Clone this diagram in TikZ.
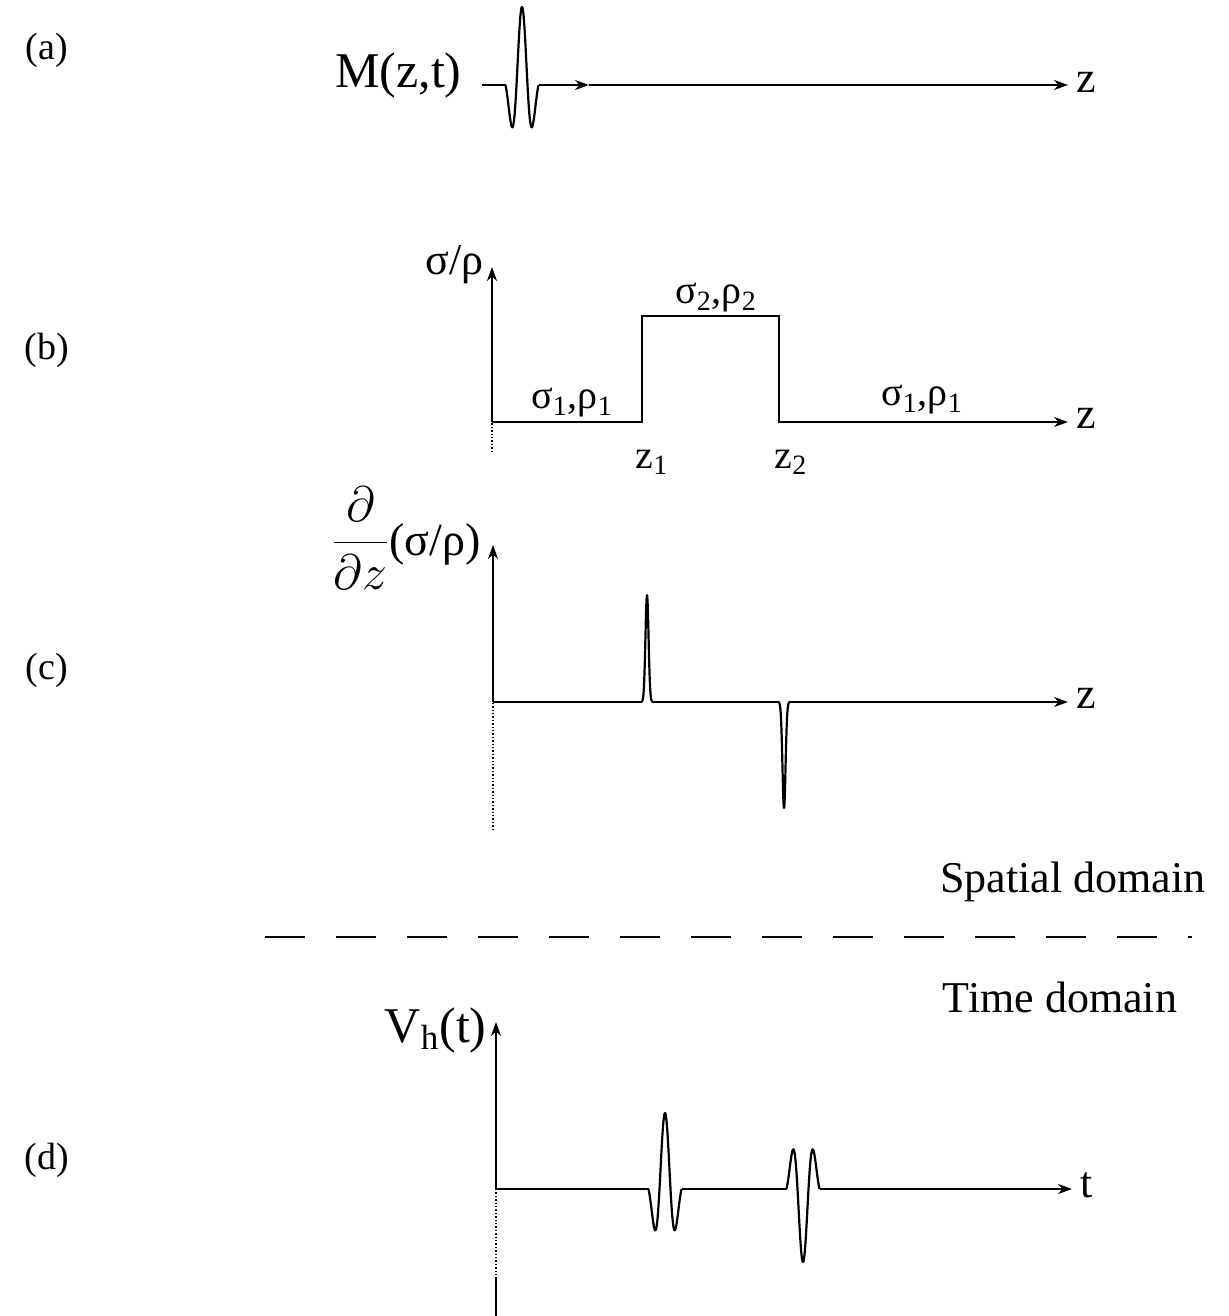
\documentclass[tikz,border=0pt]{standalone}
\usepackage{fontspec}
\setmainfont{Liberation Serif}
\usetikzlibrary{arrows.meta}
\begin{document}
\begin{tikzpicture}[x=0.5pt,y=-0.5pt,
  ax/.style={line width=1.1pt},
  axarrow/.style={ax,-{Stealth[length=7pt,width=5pt]}},
  faint/.style={line width=0.7pt, densely dotted},
  lbl/.style={font=\fontsize{19}{22}\selectfont, inner sep=0pt},
  big/.style={font=\fontsize{22}{26}\selectfont, inner sep=0pt},
  huge/.style={font=\fontsize{25}{29}\selectfont, inner sep=0pt},
  mid/.style={font=\fontsize{20}{24}\selectfont, inner sep=0pt},
  wave/.style={line width=1.1pt, line join=round}]
\useasboundingbox (0,0) rectangle (1228,1316);

% panel labels
\node[lbl] (la) at (47,50) {(a)};
\node[lbl] (lb) at (47,350) {(b)};
\node[lbl] (lc) at (47,670) {(c)};
\node[lbl] (ld) at (47,1160) {(d)};

% (a)
\node[huge, anchor=east] (M) at (462,75) {M(z,t)};
\coordinate (a0) at (482,85);
\coordinate (a1) at (505.5,85);
\coordinate (a2) at (538.5,85);
\coordinate (am) at (589,85);
\coordinate (a3) at (1068,85);
\node[big, anchor=west] (za) at (1076,82) {z};
\draw[ax] (a0) -- (a1);
\draw[wave] plot[domain=-16.5:16.5, samples=120, smooth] ({522+\x},{85-78*cos(\x*360/22)*exp(-(\x/13.2)^2)});
\draw[axarrow] (a2) -- (am);
\draw[axarrow] (am) -- (a3);

% (b)
\coordinate (bO) at (492,422);
\coordinate (bB) at (492,452);
\coordinate (bT) at (492,267);
\coordinate (bE) at (1068,422);
\draw[faint] (bB) -- (bO);
\draw[axarrow] (bO) -- (bT);
\draw[axarrow, line join=miter] (bO) -- (642,422) -- (642,316) -- (779,316) -- (779,422) -- (bE);
\node[big, anchor=east] (sr) at (484,265) {σ/ρ};
\node[mid] (s1) at (572,403) {σ\textsubscript{1},ρ\textsubscript{1}};
\node[mid] (s2) at (716,298) {σ\textsubscript{2},ρ\textsubscript{2}};
\node[mid] (s3) at (922,400) {σ\textsubscript{1},ρ\textsubscript{1}};
\node[mid] (z1) at (652,462) {z\textsubscript{1}};
\node[mid] (z2) at (791,462) {z\textsubscript{2}};
\node[big, anchor=west] (zb) at (1076,418) {z};

% (c)
\coordinate (cO) at (493,702);
\coordinate (cB) at (493,830);
\coordinate (cT) at (493,545);
\coordinate (cE) at (1068,702);
\draw[faint] (cB) -- (cO);
\draw[axarrow] (cO) -- (cT);
\draw[ax] (cO) -- (641,702);
\draw[wave] plot[domain=-6:6, samples=60, smooth] ({647+\x},{702-107*exp(-(\x/2.2)^2)});
\draw[ax] (653,702) -- (778,702);
\draw[wave] plot[domain=-6:6, samples=60, smooth] ({784+\x},{702+106*exp(-(\x/2.2)^2)});
\draw[axarrow] (790,702) -- (cE);
\node[font=\fontsize{23}{27}\selectfont, inner sep=0pt, anchor=east] (dl) at (481,538) {$\displaystyle\frac{\partial}{\partial z}$(σ/ρ)};
\node[big, anchor=west] (zc) at (1076,698) {z};

% separator
\node[big] (sd) at (1073,882) {Spatial domain};
\node[big] (td) at (1060,997) {Time domain};
\coordinate (s0) at (265,937);
\coordinate (s1e) at (1157,937);
\draw[line width=1.3pt, dash pattern=on 20pt off 15.5pt] (s0) -- (s1e);
\draw[line width=1.3pt] (1188,937) -- (1192,937);

% (d)
\coordinate (dO) at (496,1189);
\coordinate (dT) at (496,1022);
\coordinate (dM) at (496,1277);
\coordinate (dB) at (496,1316);
\coordinate (dE) at (1072,1189);
\draw[faint] (dO) -- (dM);
\draw[ax] (dM) -- (dB);
\draw[axarrow] (dO) -- (dT);
\draw[ax] (dO) -- (648.5,1189);
\draw[wave] plot[domain=-16.5:16.5, samples=120, smooth] ({665+\x},{1189-76*cos(\x*360/22)*exp(-(\x/13.2)^2)});
\draw[ax] (681.5,1189) -- (786.5,1189);
\draw[wave] plot[domain=-16.5:16.5, samples=120, smooth] ({803+\x},{1189+73*cos(\x*360/22)*exp(-(\x/13.2)^2)});
\draw[axarrow] (819.5,1189) -- (dE);
\node[huge, anchor=east] (vh) at (487,1030) {V\textsubscript{h}(t)};
\node[big, anchor=west] (tt) at (1080,1185) {t};
\end{tikzpicture}
\end{document}
